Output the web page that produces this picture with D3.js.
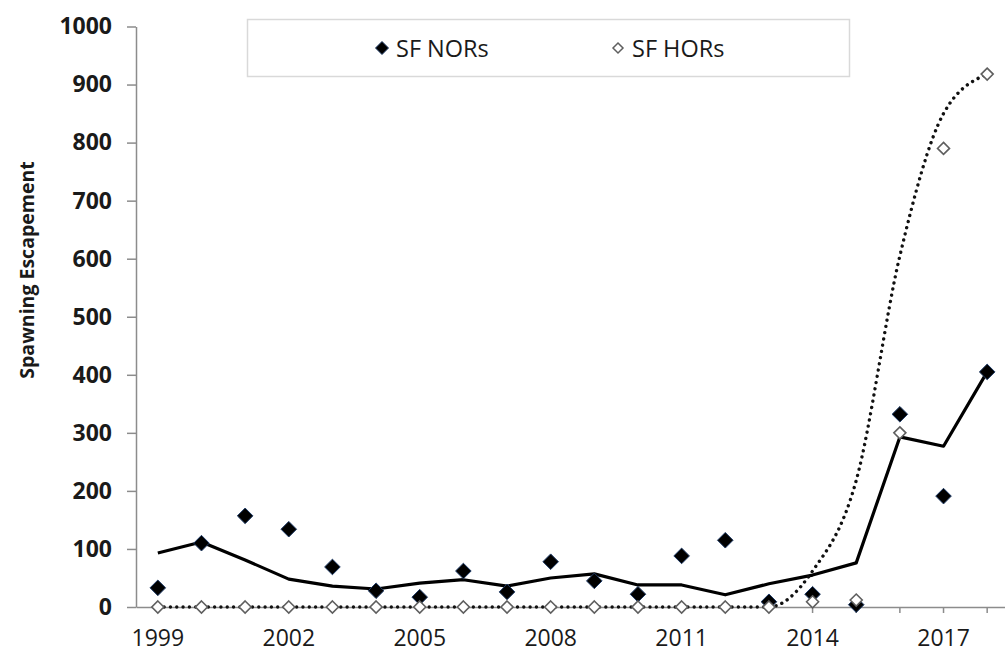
<!DOCTYPE html>
<html>
<head>
<meta charset="utf-8">
<script src="https://cdn.jsdelivr.net/npm/d3@7"></script>
<style>
  html, body { margin: 0; padding: 0; background: #fff; }
  svg { display: block; }
  text { font-family: "Open Sans", "DejaVu Sans", sans-serif; fill: #1a1a1a; }
</style>
</head>
<body>
<svg id="chart" width="1005" height="656"></svg>
<script>
const years = d3.range(1999, 2019);
const norValues = [33,110,157,134,69,28,17,62,26,78,45,22,88,115,9,22,4,332,191,405];
const horValues = [0,0,0,0,0,0,0,0,0,0,0,0,0,0,0,9,12,300,790,918];
const norTrend  = [93,112,81,48,36,31,41,47,36,50,57,38,38,21,40,55,76,293,277,405];
const horTrend  = [0,0,0,0,0,0,0,0,0,0,0,0,0,0,0,62,218,605,850,918];
const yTicks = d3.range(0, 1001, 100);
const xLabelYears = [1999, 2002, 2005, 2008, 2011, 2014, 2017];
const seriesNames = ["SF NORs", "SF HORs"];

const svg = d3.select("#chart");
svg.append("rect").attr("width", 1005).attr("height", 656).attr("fill", "#fff");

const plot = { left: 136, top: 26.5, bottom: 607 };
const step = 43.65;

const x = d3.scaleBand().domain(years).range([plot.left, plot.left + step * years.length]).padding(0);
const cx = yr => x(yr) + x.bandwidth() / 2;
const y = d3.scaleLinear().domain([0, 1000]).range([plot.bottom, plot.top]);

const axisColor = "#8c8c8c";

// Y axis
const yAxis = svg.append("g").attr("transform", `translate(${plot.left},0)`)
  .call(d3.axisLeft(y).tickValues(yTicks).tickSize(9).tickSizeOuter(0).tickPadding(15).tickFormat(d3.format("d")));
yAxis.select(".domain").attr("stroke", axisColor).attr("stroke-width", 1.5);
yAxis.selectAll(".tick line").attr("stroke", axisColor).attr("stroke-width", 1.5);
yAxis.selectAll(".tick text").style("font-size", "23px").style("font-weight", "700").attr("fill", "#1a1a1a");

// X axis
const xAxis = svg.append("g").attr("transform", `translate(0,${plot.bottom})`)
  .call(d3.axisBottom(x).tickSize(6).tickSizeOuter(0).tickPadding(17)
    .tickFormat(d => xLabelYears.includes(d) ? String(d) : ""));
xAxis.select(".domain").attr("stroke", axisColor).attr("stroke-width", 1.5);
xAxis.selectAll(".tick line").attr("stroke", axisColor).attr("stroke-width", 1.5);
xAxis.selectAll(".tick text").style("font-size", "23px").attr("fill", "#1a1a1a");

// Y axis title
svg.append("text")
  .attr("transform", `translate(26,270) rotate(-90)`)
  .attr("text-anchor", "middle").attr("dominant-baseline", "central")
  .style("font-size", "19.5px").style("font-weight", "700")
  .text("Spawning Escapement");

// Lines
const norLine = d3.line().x((d, i) => cx(years[i])).y(d => y(d));
const horLine = d3.line().x((d, i) => cx(years[i])).y(d => y(d)).curve(d3.curveMonotoneX);

svg.append("path").datum(norTrend).attr("d", norLine)
  .attr("fill", "none").attr("stroke", "#000").attr("stroke-width", 3.2).attr("stroke-linejoin", "round");
svg.append("path").datum(horTrend).attr("d", horLine)
  .attr("fill", "none").attr("stroke", "#111").attr("stroke-width", 3.4)
  .attr("stroke-dasharray", "0.01 6.3").attr("stroke-linecap", "round");

const diamond = r => `M0,${-r}L${r},0L0,${r}L${-r},0Z`;

// Filled diamonds
svg.append("g").selectAll("path").data(norValues).join("path")
  .attr("d", diamond(7.8))
  .attr("transform", (d, i) => `translate(${cx(years[i])},${y(d)})`)
  .attr("fill", "#000").attr("stroke", "#1f3b66").attr("stroke-width", 1);

// Hollow diamonds
svg.append("g").selectAll("path").data(horValues).join("path")
  .attr("d", diamond(6))
  .attr("transform", (d, i) => `translate(${cx(years[i])},${y(d)})`)
  .attr("fill", "#fff").attr("stroke", "#5f5f5f").attr("stroke-width", 1.6);

// Legend
const lg = svg.append("g");
lg.append("rect").attr("x", 247.5).attr("y", 19.5).attr("width", 602).attr("height", 57)
  .attr("fill", "#fff").attr("stroke", "#d9d9d9").attr("stroke-width", 1.5);
const legendItems = [
  { name: seriesNames[0], mx: 382, fill: "#000", stroke: "#1f3b66", r: 6.5, sw: 1 },
  { name: seriesNames[1], mx: 618, fill: "#fff", stroke: "#5f5f5f", r: 5, sw: 1.5 }
];
legendItems.forEach(it => {
  lg.append("path").attr("d", diamond(it.r)).attr("transform", `translate(${it.mx},48)`)
    .attr("fill", it.fill).attr("stroke", it.stroke).attr("stroke-width", it.sw);
  lg.append("text").attr("x", it.mx + 14).attr("y", 48).attr("dominant-baseline", "central")
    .style("font-size", "23.5px").text(it.name);
});
</script>
</body>
</html>
